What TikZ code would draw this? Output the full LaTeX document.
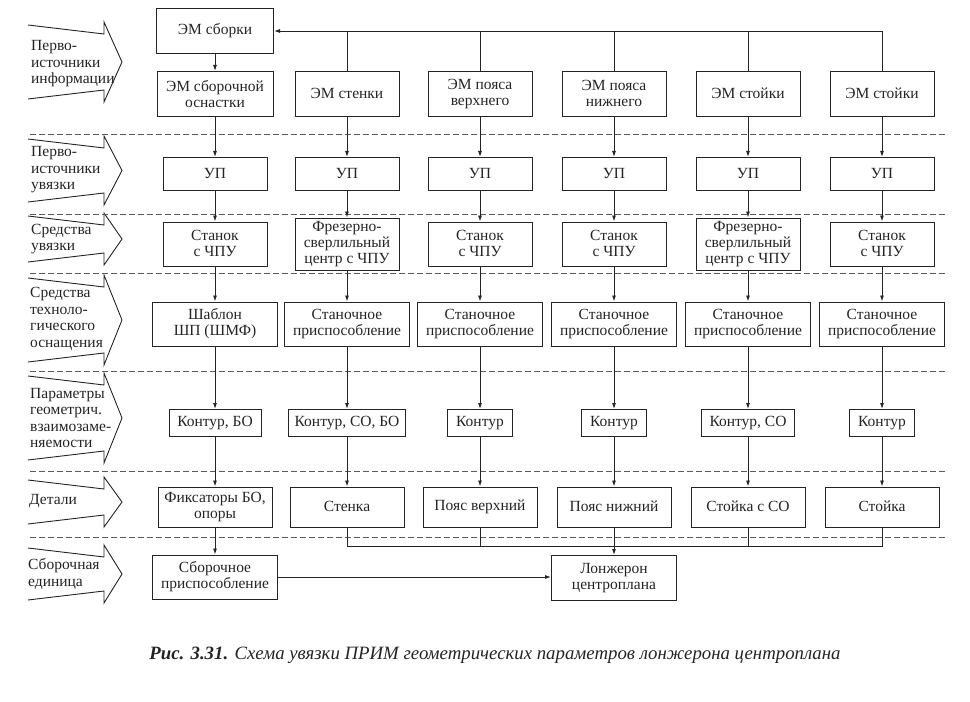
\documentclass[tikz,border=0pt]{standalone}
\usepackage{fontspec}
\setmainfont{Liberation Serif}
\usetikzlibrary{arrows.meta}
\definecolor{ink}{HTML}{242424}
\definecolor{dashc}{HTML}{5A5A5A}
\newcommand\rowarrow[2]{%
  \draw[rowarr] (28,#1+3) -- (104,#1+12) -- (104,#1) -- (122,{(#1+#2)/2})
    -- (104,#2) -- (104,#2-12) -- (28,#2-3);}
\begin{document}
\begin{tikzpicture}[x=1bp,y=-1bp,
  box/.style={draw=ink,line width=1bp,text=ink,align=center,inner sep=0pt,
    font=\fontsize{15.5bp}{16bp}\selectfont,
    execute at begin node={\vrule width 0pt height 10.6bp depth 0pt},
    execute at end node={\vrule width 0pt height 0pt depth 1bp}},
  lbl/.style={anchor=west,align=left,text=ink,inner sep=0pt,
    font=\fontsize{15.5bp}{16.5bp}\selectfont},
  line/.style={draw=ink,line width=0.9bp},
  arr/.style={line,-{Latex[length=6bp,width=4bp]}},
  dashline/.style={draw=dashc,line width=0.7bp,dash pattern=on 6bp off 3bp},
  rowarr/.style={draw=ink,line width=0.9bp,line join=miter},
  w1/.style={minimum width=104bp},
  w2/.style={minimum width=125bp},
  w3/.style={minimum width=114bp}]
\useasboundingbox (0,0) rectangle (970,702);

% left arrows and labels
\rowarrow{22}{102}
\rowarrow{136}{205}
\rowarrow{213}{265}
\rowarrow{275}{365}
\rowarrow{373}{463}
\rowarrow{477}{527}
\rowarrow{545}{603}
\node[lbl] (l1) at (31,64) {Перво-\\источники\\информации};
\node[lbl] (l2) at (31,170) {Перво-\\источники\\увязки};
\node[lbl] (l3) at (31,239) {Средства\\увязки};
\node[lbl] (l4) at (30,319) {Средства\\техноло-\\гического\\оснащения};
\node[lbl] (l5) at (30,418) {Параметры\\геометрич.\\взаимозаме-\\няемости};
\node[lbl] (l6) at (29,501) {Детали};
\node[lbl] (l7) at (28,574) {Сборочная\\единица};

% dashed separators
\draw[dashline] (30,134) -- (945,134);
\draw[dashline] (30,214) -- (945,214);
\draw[dashline] (30,273) -- (945,273);
\draw[dashline] (30,371) -- (945,371);
\draw[dashline] (30,471) -- (945,471);
\draw[dashline] (30,537) -- (945,537);

% row 1
\node[box,minimum width=117bp,minimum height=45bp] (ems) at (215,31) {ЭМ сборки};
\node[box,minimum width=116bp,minimum height=45bp] (a1) at (215,94) {ЭМ сборочной\\оснастки};
\node[box,w1,minimum height=45bp] (a2) at (347,94) {ЭМ стенки};
\node[box,w1,minimum height=45bp] (a3) at (480,94) {ЭМ пояса\\верхнего};
\node[box,w1,minimum height=45bp] (a4) at (614,94) {ЭМ пояса\\нижнего};
\node[box,w1,minimum height=45bp] (a5) at (748,94) {ЭМ стойки};
\node[box,w1,minimum height=45bp] (a6) at (882,94) {ЭМ стойки};

% row 2
\foreach \i/\x in {1/215,2/347,3/480,4/614,5/748,6/882}
  \node[box,w1,minimum height=33bp] (b\i) at (\x,174) {УП};

% row 3
\node[box,w1,minimum height=44bp] (c1) at (215,244) {Станок\\с ЧПУ};
\node[box,w1,minimum height=52bp] (c2) at (347,244) {Фрезерно-\\сверлильный\\центр с ЧПУ};
\node[box,w1,minimum height=44bp] (c3) at (480,244) {Станок\\с ЧПУ};
\node[box,w1,minimum height=44bp] (c4) at (614,244) {Станок\\с ЧПУ};
\node[box,w1,minimum height=52bp] (c5) at (748,244) {Фрезерно-\\сверлильный\\центр с ЧПУ};
\node[box,w1,minimum height=44bp] (c6) at (882,244) {Станок\\с ЧПУ};

% row 4
\node[box,w2,minimum height=44bp] (d1) at (215,324) {Шаблон\\ШП (ШМФ)};
\node[box,w2,minimum height=44bp] (d2) at (347,324) {Станочное\\приспособление};
\node[box,w2,minimum height=44bp] (d3) at (480,324) {Станочное\\приспособление};
\node[box,w2,minimum height=44bp] (d4) at (614,324) {Станочное\\приспособление};
\node[box,w2,minimum height=44bp] (d5) at (748,324) {Станочное\\приспособление};
\node[box,w2,minimum height=44bp] (d6) at (882,324) {Станочное\\приспособление};

% row 5
\node[box,minimum width=92bp,minimum height=27bp] (e1) at (215,423) {Контур, БО};
\node[box,minimum width=117bp,minimum height=27bp] (e2) at (347,423) {Контур, СО, БО};
\node[box,minimum width=65bp,minimum height=27bp] (e3) at (480,423) {Контур};
\node[box,minimum width=65bp,minimum height=27bp] (e4) at (614,423) {Контур};
\node[box,minimum width=93bp,minimum height=27bp] (e5) at (748,423) {Контур, СО};
\node[box,minimum width=65bp,minimum height=27bp] (e6) at (882,423) {Контур};

% row 6
\node[box,w3,minimum height=40bp] (f1) at (215,507) {Фиксаторы БО,\\опоры};
\node[box,w3,minimum height=40bp] (f2) at (347,507) {Стенка};
\node[box,w3,minimum height=40bp] (f3) at (480,507) {Пояс верхний};
\node[box,w3,minimum height=40bp] (f4) at (614,507) {Пояс нижний};
\node[box,w3,minimum height=40bp] (f5) at (748,507) {Стойка с СО};
\node[box,w3,minimum height=40bp] (f6) at (882,507) {Стойка};

% row 7
\node[box,w2,minimum height=44bp] (g1) at (215,577) {Сборочное\\приспособление};
\node[box,w2,minimum height=45bp] (g2) at (614,578) {Лонжерон\\центроплана};

% top bus
\draw[arr] (a6.north) |- (ems.east);
\foreach \i in {2,3,4,5}
  \draw[line] (a\i.north) -- (a\i.north |- ems.east);
\draw[arr] (ems) -- (a1);

% vertical chains
\foreach \i in {1,...,6}{
  \draw[arr] (a\i) -- (b\i);
  \draw[arr] (b\i) -- (c\i);
  \draw[arr] (c\i) -- (d\i);
  \draw[arr] (d\i) -- (e\i);
  \draw[arr] (e\i) -- (f\i);
}

% bottom bus
\coordinate (bb) at (0,546);
\draw[line] (f2.south) -- (f2.south |- bb) -- (f6.south |- bb) -- (f6.south);
\draw[line] (f3.south) -- (f3.south |- bb);
\draw[line] (f5.south) -- (f5.south |- bb);
\draw[arr] (f4) -- (g2);
\draw[arr] (f1) -- (g1);
\draw[arr] (g1.east) -- (g1.east -| g2.west);

% caption
\node[text=ink,inner sep=0pt,font=\fontsize{18.8bp}{22bp}\selectfont\itshape] (cap) at (495,655)
  {\textbf{Рис. 3.31.} Схема увязки ПРИМ геометрических параметров лонжерона центроплана};
\end{tikzpicture}
\end{document}
